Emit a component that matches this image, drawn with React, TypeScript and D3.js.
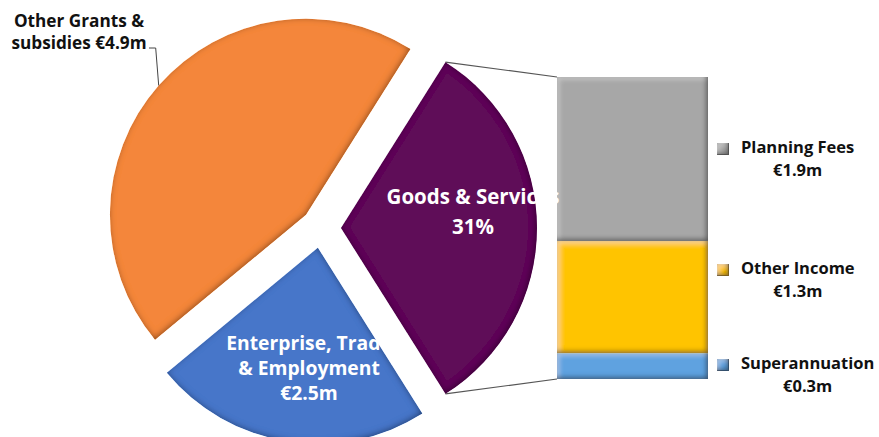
import React from 'react';
import * as d3 from 'd3';

// ---- data ----
const pieCategories = ['Enterprise, Trade & Employment', 'Other Grants & subsidies'];
const pieValues = [2.5, 4.9];
const goodsCategory = 'Goods & Services';
const goodsPctLabel = '31%';
const barCategories = ['Superannuation', 'Other Income', 'Planning Fees'];
const barValues = [0.3, 1.3, 1.9];
const barValueLabels = ['€0.3m', '€1.3m', '€1.9m'];
const pieValueLabels = ['€2.5m', '€4.9m'];

// ---- style ----
const FONT = "'Open Sans', 'DejaVu Sans', sans-serif";
const goodsColor = '#5E1058';
const pieColors = ['#4676C9', '#F4863A'];
const barColors = ['#5EA2E0', '#FFC400', '#A7A7A7'];

let _ctx: CanvasRenderingContext2D | null = null;
function textWidth(t: string, size: number) {
  if (!_ctx) _ctx = document.createElement('canvas').getContext('2d');
  if (!_ctx) return t.length * size * 0.55;
  _ctx.font = `bold ${size}px ${FONT}`;
  return _ctx.measureText(t).width;
}

export default function App() {
  const W = 879, H = 437;
  const cx = 321, cy = 228, R = 196, explode = 20;

  const goodsTotal = d3.sum(barValues);
  const sliceValues = [goodsTotal, ...pieValues];
  const total = d3.sum(sliceValues);
  const goodsAngle = (goodsTotal / total) * 2 * Math.PI;
  const start = Math.PI / 2 - goodsAngle / 2;
  const pie = d3.pie<number>().sort(null).value((d) => d).startAngle(start).endAngle(start + 2 * Math.PI);
  const arcs = pie(sliceValues);
  const arcGen = d3.arc<d3.PieArcDatum<number>>().innerRadius(0).outerRadius(R);
  const sliceColors = [goodsColor, ...pieColors];

  const offs = arcs.map((a) => {
    const m = (a.startAngle + a.endAngle) / 2;
    return [cx + explode * Math.sin(m), cy - explode * Math.cos(m)];
  });

  // bar
  const barX0 = 557, barX1 = 708;
  const y = d3.scaleLinear().domain([0, goodsTotal]).range([379, 77]);
  const cum = d3.cumsum(barValues);
  const segs = barValues.map((v, i) => ({ v, y0: cum[i] - v, y1: cum[i], i }));

  // connectors
  const g = arcs[0];
  const [gx, gy] = offs[0];
  const pTop = [gx + R * Math.sin(g.startAngle), gy - R * Math.cos(g.startAngle)];
  const pBot = [gx + R * Math.sin(g.endAngle), gy - R * Math.cos(g.endAngle)];

  // leader for Other Grants
  const o = arcs[2];
  const [ox, oy] = offs[2];
  const om = (o.startAngle + o.endAngle) / 2;
  const leadP = [ox + R * Math.sin(om), oy - R * Math.cos(om)];

  // legend
  const legendY = [365, 270, 149];
  const legSize = 16.5;
  const legLeft = 741;

  return (
    <svg width={W} height={H} style={{ position: 'absolute', left: 0, top: 0, background: '#fff' }} fontFamily={FONT}>
      <defs>
        <filter id="bevel" x="-5%" y="-5%" width="110%" height="110%">
          <feGaussianBlur in="SourceAlpha" stdDeviation="3" result="b" />
          <feOffset in="b" dx="-1.5" dy="-1.5" result="bo" />
          <feComposite in="SourceAlpha" in2="bo" operator="arithmetic" k2="1" k3="-1" result="edge" />
          <feFlood floodColor="#000" floodOpacity="0.75" />
          <feComposite in2="edge" operator="in" result="shade" />
          <feMerge>
            <feMergeNode in="SourceGraphic" />
            <feMergeNode in="shade" />
          </feMerge>
        </filter>
        <filter id="bevelBar" x="-5%" y="-5%" width="110%" height="110%">
          <feGaussianBlur in="SourceAlpha" stdDeviation="2.5" result="b" />
          <feOffset in="b" dx="-2" dy="-2" result="bo" />
          <feComposite in="SourceAlpha" in2="bo" operator="arithmetic" k2="1" k3="-1" result="edge" />
          <feFlood floodColor="#000" floodOpacity="0.8" />
          <feComposite in2="edge" operator="in" result="shade" />
          <feOffset in="b" dx="2" dy="2" result="bo2" />
          <feComposite in="SourceAlpha" in2="bo2" operator="arithmetic" k2="1" k3="-1" result="edge2" />
          <feFlood floodColor="#fff" floodOpacity="0.35" />
          <feComposite in2="edge2" operator="in" result="hi" />
          <feMerge>
            <feMergeNode in="SourceGraphic" />
            <feMergeNode in="hi" />
            <feMergeNode in="shade" />
          </feMerge>
        </filter>
      </defs>

      {/* connector lines */}
      <line x1={pTop[0]} y1={pTop[1]} x2={barX0} y2={y(goodsTotal)} stroke="#555" strokeWidth={1.2} />
      <line x1={pBot[0]} y1={pBot[1]} x2={barX0} y2={y(0)} stroke="#555" strokeWidth={1.2} />

      {/* pie slices */}
      {arcs.map((a, i) => (
        <path key={i} d={arcGen(a) || ''} transform={`translate(${offs[i][0]},${offs[i][1]})`} fill={sliceColors[i]} filter="url(#bevel)" />
      ))}

      {/* bar segments */}
      {segs.map((s) => (
        <rect key={s.i} x={barX0} width={barX1 - barX0} y={y(s.y1)} height={y(s.y0) - y(s.y1)} fill={barColors[s.i]} filter="url(#bevelBar)" />
      ))}

      {/* pie labels */}
      <g fill="#fff" fontWeight="bold" fontSize={20.5} textAnchor="middle">
        <text x={473} y={204}>{goodsCategory}</text>
        <text x={473} y={234}>{goodsPctLabel}</text>
      </g>
      <g fill="#fff" fontWeight="bold" fontSize={19.3} textAnchor="middle">
        <text x={309} y={350}>Enterprise, Trade</text>
        <text x={309} y={375}>&amp; Employment</text>
        <text x={309} y={400}>{pieValueLabels[0]}</text>
      </g>

      {/* Other grants label + leader */}
      <polyline points={`${leadP[0]},${leadP[1]} ${leadP[0] - 3},48 149,48`} fill="none" stroke="#444" strokeWidth={1} />
      <g fill="#111" fontWeight="bold" fontSize={17.2} textAnchor="middle">
        <text x={79} y={27}>Other Grants &amp;</text>
        <text x={79} y={49}>subsidies {pieValueLabels[1]}</text>
      </g>

      {/* legend */}
      {barCategories.map((c, i) => {
        const w1 = textWidth(c, legSize);
        const w2 = textWidth(barValueLabels[i], legSize);
        const mid = legLeft + Math.max(w1, w2) / 2;
        const ly = legendY[i];
        return (
          <g key={c}>
            <rect x={legLeft - 24} y={ly - 6} width={12} height={12} fill={barColors[i]} filter="url(#bevelBar)" />
            <text x={mid} y={ly + 4} textAnchor="middle" fontWeight="bold" fontSize={legSize} fill="#111">{c}</text>
            <text x={mid} y={ly + 27} textAnchor="middle" fontWeight="bold" fontSize={legSize} fill="#111">{barValueLabels[i]}</text>
          </g>
        );
      })}
    </svg>
  );
}
